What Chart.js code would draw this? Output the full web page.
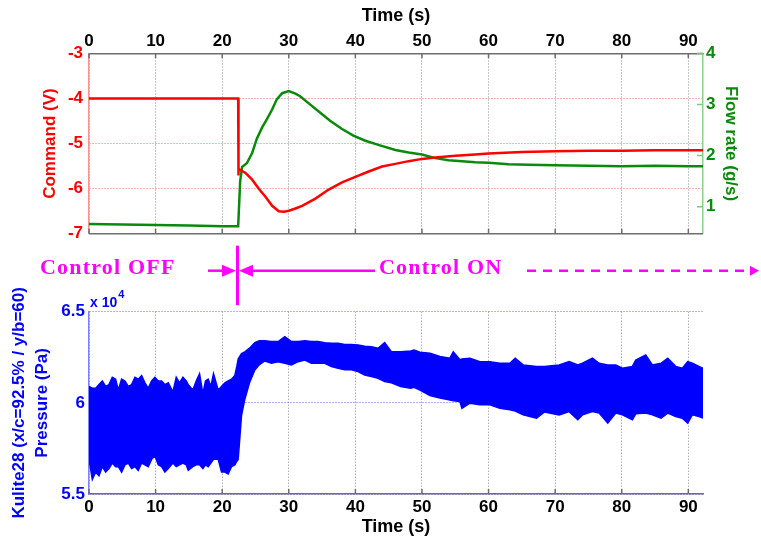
<!DOCTYPE html>
<html>
<head>
<meta charset="utf-8">
<script src="https://cdn.jsdelivr.net/npm/chart.js@4.4.1/dist/chart.umd.min.js"></script>
<style>
  html, body { margin: 0; padding: 0; background: #fff; }
  #wrap { position: relative; width: 761px; height: 538px; overflow: hidden; }
  canvas { position: absolute; left: 0; }
  #topChart { top: 0; }
  #bottomChart { top: 240px; }
</style>
</head>
<body>
<div id="wrap">
  <canvas id="topChart" width="761" height="250"></canvas>
  <canvas id="bottomChart" width="761" height="298"></canvas>
</div>
<script>
// valve command (V)
const commandTime = [0, 5, 10, 15, 20, 22.4, 22.4, 22.5, 23.5, 24.5, 25.5, 26.5, 27.5, 28.5, 29.3, 30, 31, 32, 34, 36, 38, 40, 42, 44, 46, 48, 50, 52, 55, 58, 60, 65, 70, 75, 80, 85, 90, 92.2];
const commandVolt = [-4, -4, -4, -4, -4, -4, -5.71, -5.56, -5.65, -5.8, -6.0, -6.18, -6.38, -6.5, -6.51, -6.49, -6.44, -6.38, -6.22, -6.02, -5.86, -5.74, -5.62, -5.51, -5.45, -5.39, -5.34, -5.31, -5.27, -5.24, -5.22, -5.19, -5.17, -5.16, -5.16, -5.15, -5.15, -5.15];

// mass flow rate (g/s)
const flowTime = [0, 5, 10, 15, 20, 22.4, 22.7, 23.0, 23.7, 24.5, 25.2, 26, 26.7, 27.5, 28.2, 29, 30, 31, 31.7, 33, 34.5, 36.2, 38, 39.7, 41.5, 43.7, 46, 48, 50, 52, 54, 56, 58, 60, 63, 66, 70, 75, 80, 85, 90, 92.2];
const flowRate = [0.66, 0.65, 0.64, 0.63, 0.62, 0.62, 1.5, 1.78, 1.85, 2.05, 2.33, 2.55, 2.71, 2.9, 3.1, 3.22, 3.26, 3.21, 3.16, 3.02, 2.86, 2.68, 2.52, 2.39, 2.29, 2.2, 2.11, 2.06, 2.02, 1.95, 1.91, 1.89, 1.87, 1.86, 1.83, 1.82, 1.81, 1.8, 1.79, 1.8, 1.79, 1.79];

// Kulite28 pressure envelope, x 10^4 Pa
const pressureTime = [0, 0.5, 1, 1.5, 2, 2.5, 3, 3.5, 4, 4.4, 4.9, 5.4, 5.9, 6.4, 6.9, 7.4, 7.9, 8.4, 8.9, 9.4, 9.9, 10.4, 10.9, 11.4, 11.9, 12.6, 13.1, 13.6, 14.1, 14.6, 14.9, 15.6, 16.1, 16.6, 17.1, 17.5, 17.9, 18.3, 18.7, 19.4, 19.9, 20.4, 20.9, 21.4, 21.9, 22.2, 22.4, 22.9, 23.4, 24.1, 24.9, 25.6, 26.4, 27.4, 28.4, 29.4, 30.4, 31.4, 32.4, 33.4, 34.4, 35.4, 36.4, 37.4, 38.4, 39.4, 40.4, 41.4, 42.4, 43.4, 44.4, 45.4, 46.8, 48.3, 48.8, 49.7, 51.2, 52.7, 54.2, 54.7, 55.7, 56.0, 57.2, 58.7, 60.2, 61.7, 63.2, 64.0, 65.2, 67.2, 68.4, 70.6, 72.1, 73.4, 74.1, 75.6, 76.6, 77.9, 79.1, 80.1, 81.6, 82.1, 83.6, 84.6, 85.9, 86.9, 88.1, 89.1, 89.9, 90.6, 91.6, 92.2];
const pressureHi = [6.09, 6.08, 6.08, 6.10, 6.12, 6.09, 6.10, 6.14, 6.13, 6.07, 6.13, 6.12, 6.09, 6.10, 6.14, 6.13, 6.15, 6.11, 6.08, 6.12, 6.14, 6.12, 6.12, 6.10, 6.11, 6.06, 6.14, 6.11, 6.14, 6.12, 6.10, 6.07, 6.12, 6.16, 6.05, 6.12, 6.13, 6.09, 6.16, 6.07, 6.09, 6.11, 6.12, 6.13, 6.15, 6.20, 6.24, 6.27, 6.28, 6.30, 6.33, 6.34, 6.34, 6.336, 6.336, 6.363, 6.336, 6.336, 6.341, 6.336, 6.336, 6.33, 6.327, 6.327, 6.32, 6.32, 6.318, 6.31, 6.308, 6.299, 6.33, 6.28, 6.28, 6.285, 6.29, 6.278, 6.272, 6.254, 6.245, 6.28, 6.236, 6.24, 6.245, 6.226, 6.226, 6.217, 6.217, 6.245, 6.208, 6.2, 6.2, 6.208, 6.226, 6.208, 6.217, 6.245, 6.217, 6.208, 6.208, 6.19, 6.2, 6.235, 6.263, 6.208, 6.217, 6.245, 6.2, 6.19, 6.226, 6.217, 6.2, 6.19];
const pressureLo = [5.69, 5.58, 5.62, 5.60, 5.65, 5.62, 5.64, 5.67, 5.65, 5.65, 5.62, 5.66, 5.67, 5.64, 5.65, 5.63, 5.67, 5.66, 5.65, 5.69, 5.71, 5.66, 5.65, 5.62, 5.64, 5.67, 5.65, 5.66, 5.67, 5.66, 5.63, 5.65, 5.66, 5.66, 5.64, 5.66, 5.65, 5.67, 5.69, 5.69, 5.62, 5.62, 5.61, 5.65, 5.66, 5.68, 5.69, 5.93, 6.02, 6.11, 6.18, 6.21, 6.23, 6.217, 6.226, 6.217, 6.208, 6.226, 6.235, 6.217, 6.217, 6.217, 6.199, 6.19, 6.181, 6.181, 6.172, 6.153, 6.144, 6.135, 6.117, 6.11, 6.09, 6.08, 6.085, 6.07, 6.04, 6.026, 6.016, 6.012, 6.007, 5.97, 5.998, 5.99, 5.99, 5.97, 5.962, 5.955, 5.934, 5.916, 5.95, 5.934, 5.952, 5.907, 5.934, 5.952, 5.944, 5.889, 5.944, 5.934, 5.907, 5.94, 5.944, 5.934, 5.916, 5.944, 5.925, 5.916, 5.889, 5.934, 5.925, 5.916];

const controlOnTime = 22.3;
const timeRange = [0, 92.2];
const commandRange = [-7, -3];
const flowRange = [0.47, 4];
const pressureRange = [5.5, 6.5];

const RED = '#ff0000';
const GREEN = '#0a8a0a';
const BLUE = '#0000ff';
const MAGENTA = '#ff00ff';

Chart.defaults.font.family = "'Liberation Sans', Arial, sans-serif";
Chart.defaults.font.weight = 'bold';
Chart.defaults.font.size = 17;

const pts = (xs, ys) => xs.map((x, i) => ({ x: x, y: ys[i] }));
const dotted = [1, 2];

// matlab style: short tick marks pointing into the axes box
const inwardTicks = {
  id: 'inwardTicks',
  afterDraw(chart, args, opts) {
    const { ctx, chartArea: a } = chart;
    ctx.save();
    ctx.lineWidth = 1.5;
    if (opts.bottomLine) {
      ctx.strokeStyle = opts.bottomLine;
      ctx.beginPath();
      ctx.moveTo(a.left, a.bottom);
      ctx.lineTo(a.right, a.bottom);
      ctx.stroke();
    }
    for (const m of opts.marks || []) {
      const s = chart.scales[m.scale];
      ctx.strokeStyle = m.color;
      ctx.beginPath();
      for (const t of s.ticks) {
        const p = s.getPixelForValue(t.value);
        if (m.edge === 'top') { ctx.moveTo(p, a.top); ctx.lineTo(p, a.top + 5); }
        if (m.edge === 'bottom') { ctx.moveTo(p, a.bottom); ctx.lineTo(p, a.bottom - 5); }
        if (m.edge === 'left') { ctx.moveTo(a.left, p); ctx.lineTo(a.left + 5, p); }
        if (m.edge === 'right') { ctx.moveTo(a.right, p); ctx.lineTo(a.right - 6, p); }
      }
      ctx.stroke();
    }
    ctx.restore();
  }
};

new Chart(document.getElementById('topChart'), {
  type: 'line',
  data: {
    datasets: [
      { data: pts(commandTime, commandVolt), yAxisID: 'y', borderColor: RED, borderWidth: 2.5 },
      { data: pts(flowTime, flowRate), yAxisID: 'y2', borderColor: GREEN, borderWidth: 2.5 }
    ]
  },
  options: {
    responsive: false,
    animation: false,
    devicePixelRatio: 1,
    parsing: false,
    layout: { padding: { top: 0, bottom: 13.3, left: 0, right: 0 } },
    elements: { point: { radius: 0 }, line: { tension: 0 } },
    plugins: {
      legend: { display: false },
      tooltip: { enabled: false },
      inwardTicks: {
        bottomLine: '#6e6e6e',
        marks: [
          { scale: 'x', edge: 'top', color: '#6e6e6e' },
          { scale: 'x', edge: 'bottom', color: '#6e6e6e' },
          { scale: 'y2', edge: 'right', color: '#7fc97f' }
        ]
      }
    },
    scales: {
      x: {
        type: 'linear', position: 'top', min: timeRange[0], max: timeRange[1],
        afterFit: s => { s.height = 53.3; },
        ticks: { stepSize: 10, includeBounds: false, color: '#000', padding: 2, maxRotation: 0 },
        grid: { color: '#8c8c8c', lineWidth: 1, drawTicks: false },
        border: { color: '#6e6e6e', width: 1.5, dash: dotted },
        title: { display: true, text: 'Time (s)', color: '#000', font: { size: 18 }, padding: { top: 5, bottom: 0 } }
      },
      y: {
        type: 'linear', position: 'left', min: commandRange[0], max: commandRange[1],
        afterFit: s => { s.width = 89; },
        ticks: { stepSize: 1, color: RED, padding: 6 },
        grid: { color: 'rgba(255,70,70,0.8)', lineWidth: 1, drawTicks: false },
        border: { color: '#ff9090', width: 1.5, dash: dotted },
        title: { display: true, text: 'Command (V)', color: RED, padding: { top: 40, bottom: 0 } }
      },
      y2: {
        type: 'linear', position: 'right', min: flowRange[0], max: flowRange[1],
        afterFit: s => { s.width = 58; },
        ticks: { stepSize: 1, includeBounds: false, color: GREEN, padding: 3 },
        grid: { drawOnChartArea: false, drawTicks: false },
        border: { color: '#8fd08f', width: 1.5 },
        title: { display: true, text: 'Flow rate (g/s)', color: GREEN, padding: { top: 20, bottom: 0 } }
      }
    }
  },
  plugins: [inwardTicks]
});

// control OFF / ON arrows above the pressure axes and the x 10^4 multiplier
const controlMarks = {
  id: 'controlMarks',
  afterDraw(chart) {
    const { ctx, chartArea: a } = chart;
    const vx = chart.scales.x.getPixelForValue(controlOnTime);
    const ay = a.top - 41;
    const seg = (x1, y1, x2, y2) => { ctx.beginPath(); ctx.moveTo(x1, y1); ctx.lineTo(x2, y2); ctx.stroke(); };
    const head = (tip, dir, len, half) => {
      ctx.beginPath();
      ctx.moveTo(tip, ay);
      ctx.lineTo(tip - dir * len, ay - half);
      ctx.lineTo(tip - dir * len, ay + half);
      ctx.closePath();
      ctx.fill();
    };
    ctx.save();
    ctx.strokeStyle = MAGENTA;
    ctx.fillStyle = MAGENTA;
    ctx.lineWidth = 3;
    seg(vx, a.top - 66, vx, a.top - 6.5);
    ctx.lineWidth = 2.5;
    seg(208, ay, vx - 12, ay);
    head(vx - 1.5, 1, 14, 6);
    seg(vx + 12, ay, 375, ay);
    head(vx + 1.5, -1, 14, 6);
    ctx.setLineDash([9, 7]);
    seg(527, ay, 751, ay);
    ctx.setLineDash([]);
    head(759, 1, 9, 5);

    ctx.font = "bold 22px 'Liberation Serif', serif";
    ctx.letterSpacing = '1.2px';
    ctx.textBaseline = 'alphabetic';
    ctx.textAlign = 'left';
    ctx.fillText('Control OFF', 40, ay + 3.6);
    ctx.fillText('Control ON', 379, ay + 3.6);

    ctx.letterSpacing = '0px';
    ctx.fillStyle = BLUE;
    ctx.font = "bold 14px 'Liberation Sans', Arial, sans-serif";
    ctx.fillText('x 10', a.left + 1, a.top - 5);
    const w = ctx.measureText('x 10').width;
    ctx.font = "bold 11px 'Liberation Sans', Arial, sans-serif";
    ctx.fillText('4', a.left + 2 + w, a.top - 14);
    ctx.restore();
  }
};

const band = { borderColor: BLUE, backgroundColor: BLUE, borderWidth: 1.5 };

new Chart(document.getElementById('bottomChart'), {
  type: 'line',
  data: {
    datasets: [
      Object.assign({ data: pts(pressureTime, pressureHi), fill: false }, band),
      Object.assign({ data: pts(pressureTime, pressureLo), fill: '-1' }, band)
    ]
  },
  options: {
    responsive: false,
    animation: false,
    devicePixelRatio: 1,
    parsing: false,
    layout: { padding: { top: 71.7, bottom: 0, left: 0, right: 58 } },
    elements: { point: { radius: 0 }, line: { tension: 0 } },
    plugins: {
      legend: { display: false },
      tooltip: { enabled: false },
      inwardTicks: {
        marks: [{ scale: 'x', edge: 'bottom', color: '#6e6e6e' }]
      }
    },
    scales: {
      x: {
        type: 'linear', position: 'bottom', min: timeRange[0], max: timeRange[1],
        afterFit: s => { s.height = 44; },
        ticks: { stepSize: 10, includeBounds: false, color: '#000', padding: 3, maxRotation: 0 },
        grid: { color: '#8c8c8c', lineWidth: 1, drawTicks: false },
        border: { color: '#6e6e6e', width: 1.5, dash: dotted },
        title: { display: true, text: 'Time (s)', color: '#000', font: { size: 18 }, padding: { top: 0, bottom: 0 } }
      },
      y: {
        type: 'linear', position: 'left', min: pressureRange[0], max: pressureRange[1],
        afterFit: s => { s.width = 89; },
        ticks: { stepSize: 0.5, color: BLUE, padding: 4, callback: v => String(v) },
        grid: { color: 'rgba(70,70,255,0.85)', lineWidth: 1, drawTicks: false },
        border: { color: '#8080ff', width: 1.5, dash: dotted },
        title: {
          display: true, color: BLUE,
          text: ['Kulite28 (x/c=92.5% / y/b=60)', 'Pressure (Pa)'],
          font: { size: 17, lineHeight: 1.35 }, padding: { top: 8, bottom: 0 }
        }
      }
    }
  },
  plugins: [inwardTicks, controlMarks]
});
</script>
</body>
</html>
